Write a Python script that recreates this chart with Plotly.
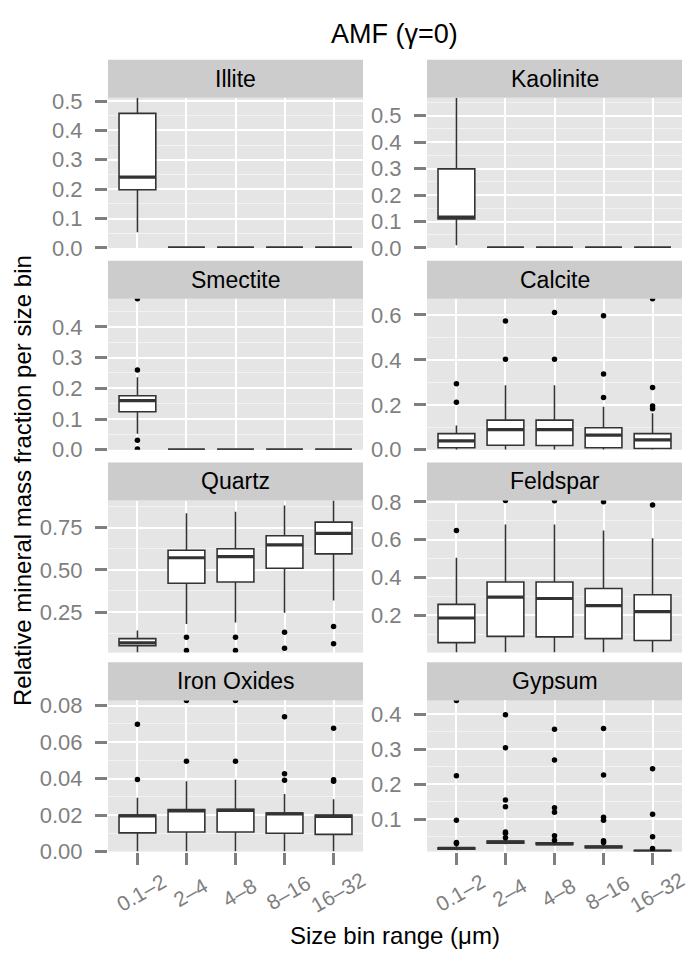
import plotly.graph_objects as go

# ---------------- data ----------------
BINS = ["0.1–2", "2–4", "4–8", "8–16", "16–32"]
MINERALS = ["Illite", "Kaolinite", "Smectite", "Calcite",
            "Quartz", "Feldspar", "Iron Oxides", "Gypsum"]

illite_low = [0.053, 0.0, 0.0, 0.0, 0.0]
illite_q1 = [0.198, 0.0, 0.0, 0.0, 0.0]
illite_med = [0.241, 0.0, 0.0, 0.0, 0.0]
illite_q3 = [0.458, 0.0, 0.0, 0.0, 0.0]
illite_up = [0.511, 0.0, 0.0, 0.0, 0.0]
illite_out = [[], [], [], [], []]

kaolinite_low = [0.010, 0.0, 0.0, 0.0, 0.0]
kaolinite_q1 = [0.110, 0.0, 0.0, 0.0, 0.0]
kaolinite_med = [0.117, 0.0, 0.0, 0.0, 0.0]
kaolinite_q3 = [0.299, 0.0, 0.0, 0.0, 0.0]
kaolinite_up = [0.568, 0.0, 0.0, 0.0, 0.0]
kaolinite_out = [[], [], [], [], []]

smectite_low = [0.052, 0.0, 0.0, 0.0, 0.0]
smectite_q1 = [0.124, 0.0, 0.0, 0.0, 0.0]
smectite_med = [0.160, 0.0, 0.0, 0.0, 0.0]
smectite_q3 = [0.176, 0.0, 0.0, 0.0, 0.0]
smectite_up = [0.236, 0.0, 0.0, 0.0, 0.0]
smectite_out = [[0.003, 0.031, 0.260, 0.492], [], [], [], []]

calcite_low = [0.0, 0.0, 0.0, 0.0, 0.0]
calcite_q1 = [0.009, 0.020, 0.019, 0.009, 0.006]
calcite_med = [0.040, 0.090, 0.090, 0.065, 0.044]
calcite_q3 = [0.072, 0.132, 0.132, 0.098, 0.072]
calcite_up = [0.108, 0.287, 0.287, 0.191, 0.162]
calcite_out = [[0.211, 0.294], [0.403, 0.573], [0.403, 0.611],
               [0.233, 0.337, 0.596], [0.183, 0.195, 0.277, 0.672]]

quartz_low = [0.010, 0.179, 0.189, 0.246, 0.319]
quartz_q1 = [0.051, 0.421, 0.428, 0.510, 0.595]
quartz_med = [0.068, 0.572, 0.579, 0.648, 0.716]
quartz_q3 = [0.093, 0.616, 0.625, 0.702, 0.783]
quartz_up = [0.141, 0.836, 0.844, 0.882, 0.911]
quartz_out = [[], [0.022, 0.101], [0.022, 0.101], [0.036, 0.131], [0.062, 0.164]]

feldspar_low = [0.003, 0.003, 0.003, 0.003, 0.003]
feldspar_q1 = [0.056, 0.089, 0.086, 0.077, 0.067]
feldspar_med = [0.186, 0.296, 0.289, 0.251, 0.220]
feldspar_q3 = [0.258, 0.376, 0.376, 0.342, 0.309]
feldspar_up = [0.504, 0.680, 0.680, 0.649, 0.607]
feldspar_out = [[0.649], [0.807], [0.806], [0.800], [0.783]]

iron_low = [0.0, 0.0, 0.0, 0.0, 0.0]
iron_q1 = [0.0102, 0.0107, 0.0107, 0.0100, 0.0094]
iron_med = [0.0195, 0.0223, 0.0225, 0.0206, 0.0193]
iron_q3 = [0.0200, 0.0230, 0.0232, 0.0211, 0.0200]
iron_up = [0.0295, 0.0385, 0.0393, 0.0315, 0.0287]
iron_out = [[0.0394, 0.0697], [0.0495, 0.0828], [0.0495, 0.0828],
            [0.0390, 0.0426, 0.0738], [0.0385, 0.0393, 0.0675]]

gypsum_low = [0.012, 0.029, 0.025, 0.016, 0.008]
gypsum_q1 = [0.015, 0.032, 0.028, 0.019, 0.008]
gypsum_med = [0.017, 0.035, 0.030, 0.021, 0.009]
gypsum_q3 = [0.019, 0.038, 0.033, 0.024, 0.011]
gypsum_up = [0.026, 0.042, 0.037, 0.030, 0.013]
gypsum_out = [[0.031, 0.034, 0.097, 0.224, 0.439],
              [0.047, 0.060, 0.064, 0.136, 0.155, 0.304, 0.398],
              [0.040, 0.053, 0.120, 0.133, 0.269, 0.357],
              [0.034, 0.039, 0.097, 0.106, 0.226, 0.359],
              [0.017, 0.050, 0.114, 0.244]]

# y tick step and decimals per panel
TICK_STEP = [0.1, 0.1, 0.1, 0.2, 0.25, 0.2, 0.02, 0.1]
TICK_DEC = [1, 1, 1, 1, 2, 1, 2, 1]

STATS = [
    (illite_low, illite_q1, illite_med, illite_q3, illite_up, illite_out),
    (kaolinite_low, kaolinite_q1, kaolinite_med, kaolinite_q3, kaolinite_up, kaolinite_out),
    (smectite_low, smectite_q1, smectite_med, smectite_q3, smectite_up, smectite_out),
    (calcite_low, calcite_q1, calcite_med, calcite_q3, calcite_up, calcite_out),
    (quartz_low, quartz_q1, quartz_med, quartz_q3, quartz_up, quartz_out),
    (feldspar_low, feldspar_q1, feldspar_med, feldspar_q3, feldspar_up, feldspar_out),
    (iron_low, iron_q1, iron_med, iron_q3, iron_up, iron_out),
    (gypsum_low, gypsum_q1, gypsum_med, gypsum_q3, gypsum_up, gypsum_out),
]

# ---------------- layout geometry (px) ----------------
W, H = 688, 964
COLS = [(108, 363), (427, 682)]
ROWS = [(89, 243), (295, 450), (502, 658), (707, 862)]
STRIP_H = 39
FONT = "Liberation Sans, Arial, Helvetica, sans-serif"
GREY = "#7f7f7f"
BOX_LINE = "#333333"
BOX_W = 0.75


def px_x(p):
    return p / W


def px_y(p):
    return 1 - p / H


fig = go.Figure()
layout = dict(
    width=W, height=H, margin=dict(l=0, r=0, t=0, b=0),
    paper_bgcolor="white", plot_bgcolor="#e5e5e5",
    showlegend=False, font=dict(family=FONT, color="black"),
    shapes=[], annotations=[],
)

xs_pos = list(range(1, len(BINS) + 1))

for k, name in enumerate(MINERALS):
    r, c = divmod(k, 2)
    ax = k + 1
    xref = "x" if ax == 1 else f"x{ax}"
    yref = "y" if ax == 1 else f"y{ax}"
    low, q1, med, q3, up, out = STATS[k]

    fig.add_trace(go.Box(
        x=xs_pos, q1=q1, median=med, q3=q3, lowerfence=low, upperfence=up,
        width=BOX_W, whiskerwidth=0, fillcolor="white",
        line=dict(color=BOX_LINE, width=1.6),
        xaxis=xref, yaxis=yref, hoverinfo="skip",
    ))
    # thick median bar (ggplot fatten)
    mx, my = [], []
    for xi, m in zip(xs_pos, med):
        mx += [xi - BOX_W / 2, xi + BOX_W / 2, None]
        my += [m, m, None]
    fig.add_trace(go.Scatter(
        x=mx, y=my, mode="lines", line=dict(color=BOX_LINE, width=3.2),
        xaxis=xref, yaxis=yref, cliponaxis=False, hoverinfo="skip",
    ))
    # outliers
    ox, oy = [], []
    for xi, pts in zip(xs_pos, out):
        ox += [xi] * len(pts)
        oy += pts
    if ox:
        fig.add_trace(go.Scatter(
            x=ox, y=oy, mode="markers",
            marker=dict(color="black", size=5.5),
            xaxis=xref, yaxis=yref, hoverinfo="skip",
        ))

    allv = low + up + [v for pts in out for v in pts]
    ymin, ymax = min(allv), max(allv)

    x0, x1 = COLS[c]
    y0, y1 = ROWS[r]
    bottom = (r == len(ROWS) - 1)
    step = TICK_STEP[k]

    layout["xaxis" if ax == 1 else f"xaxis{ax}"] = dict(
        domain=[px_x(x0), px_x(x1)], anchor=yref, range=[0.4, len(BINS) + 0.6],
        tickmode="array", tickvals=xs_pos, showticklabels=False,
        ticks="outside" if bottom else "", ticklen=12, tickwidth=2.5, tickcolor=GREY,
        showgrid=True, gridcolor="white", gridwidth=2, zeroline=False, showline=False,
        fixedrange=True,
    )
    layout["yaxis" if ax == 1 else f"yaxis{ax}"] = dict(
        domain=[px_y(y1), px_y(y0)], anchor=xref, range=[ymin, ymax],
        tickmode="linear", tick0=0, dtick=step, tickformat=f".{TICK_DEC[k]}f",
        ticks="outside", ticklen=12, tickwidth=2.5, tickcolor=GREY,
        tickfont=dict(size=22, color=GREY, family=FONT), ticklabelstandoff=8,
        showgrid=True, gridcolor="white", gridwidth=2, zeroline=False, showline=False,
        minor=dict(tick0=0, dtick=step / 2, showgrid=True, gridcolor="#f2f2f2",
                   gridwidth=1.2, ticks=""),
        fixedrange=True,
    )

    # strip
    layout["shapes"].append(dict(
        type="rect", xref="paper", yref="paper",
        x0=px_x(x0), x1=px_x(x1), y0=px_y(y0), y1=px_y(y0 - STRIP_H),
        fillcolor="#cccccc", line=dict(width=0), layer="below",
    ))
    layout["annotations"].append(dict(
        text=name, xref="paper", yref="paper",
        x=px_x((x0 + x1) / 2), y=px_y(y0 - STRIP_H / 2),
        xanchor="center", yanchor="middle", showarrow=False,
        font=dict(size=23, color="black", family=FONT),
    ))

    if bottom:
        for xi, lab in zip(xs_pos, BINS):
            layout["annotations"].append(dict(
                text=lab, xref=xref, yref="paper", x=xi, y=px_y(904),
                xshift=4, xanchor="center", yanchor="middle", textangle=-30,
                showarrow=False, font=dict(size=21, color=GREY, family=FONT),
            ))

# titles
layout["annotations"].append(dict(
    text="AMF (γ=0)", xref="paper", yref="paper", x=px_x(394), y=px_y(24),
    xanchor="center", yanchor="middle", showarrow=False,
    font=dict(size=27, color="black", family=FONT),
))
layout["annotations"].append(dict(
    text="Relative mineral mass fraction per size bin", xref="paper", yref="paper",
    x=px_x(22), y=px_y(482), xanchor="center", yanchor="middle", textangle=-90,
    showarrow=False, font=dict(size=24, color="black", family=FONT),
))
layout["annotations"].append(dict(
    text="Size bin range (μm)", xref="paper", yref="paper", x=px_x(395), y=px_y(948),
    xanchor="center", yanchor="middle", showarrow=False,
    font=dict(size=24, color="black", family=FONT),
))

fig.update_layout(**layout)
fig.write_html("out.html")
